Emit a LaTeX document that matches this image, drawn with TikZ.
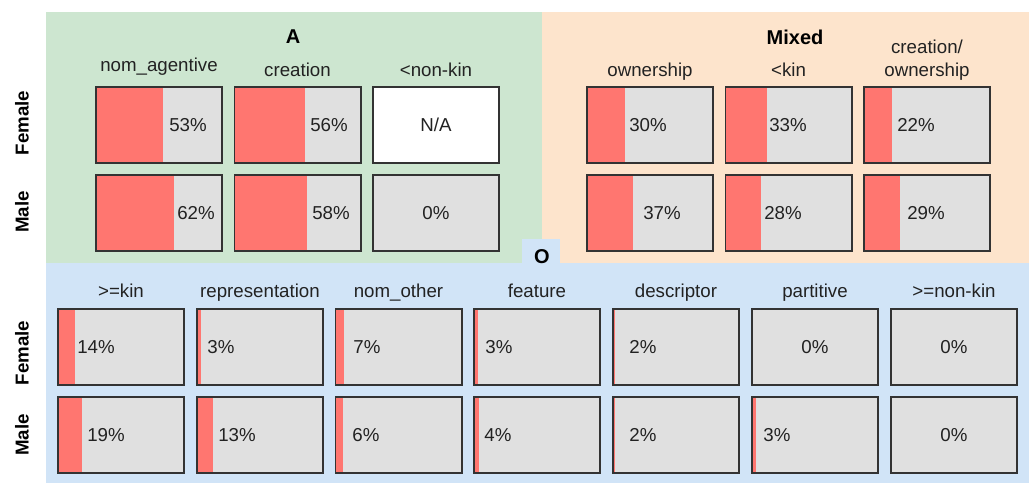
\documentclass[tikz,border=0pt]{standalone}
\usepackage{fontspec}
\setmainfont{Liberation Sans}
\usetikzlibrary{calc}
\definecolor{greenbg}{HTML}{CDE6D0}
\definecolor{orangebg}{HTML}{FDE4CC}
\definecolor{bluebg}{HTML}{D1E4F7}
\definecolor{barred}{HTML}{FF7670}
\definecolor{cellgray}{HTML}{E0E0E0}
\definecolor{edge}{HTML}{333333}
\definecolor{txt}{HTML}{222222}
\tikzset{
  cell/.style={rectangle, inner sep=0pt, minimum width=126pt, minimum height=76pt},
  cellborder/.style={draw=edge, line width=1.6pt},
  val/.style={font=\fontsize{18.7}{22}\selectfont, text=txt, inner sep=0pt},
  hdr/.style={font=\fontsize{18.7}{22}\selectfont, text=txt, anchor=base, inner sep=0pt, align=center},
  ttl/.style={font=\fontsize{20}{24}\selectfont\bfseries, inner sep=0pt},
  side/.style={font=\fontsize{18.7}{22}\selectfont\bfseries, rotate=90, inner sep=0pt},
}
% #1 fill, #2 name, #3 left x, #4 top y, #5 percent, #6 text, #7 text centre x
\newcommand{\pctbox}[7][cellgray]{%
  \node[cell, fill=#1] (#2) at ({#3+63},{#4+38}) {};
  \fill[barred] (#2.north west) rectangle ++({1.26*#5},76);
  \draw[cellborder] (#2.north west) rectangle (#2.south east);
  \node[val] (#2-v) at (#7,{#4+38}) {#6};
}
\begin{document}
\begin{tikzpicture}[x=1pt,y=-1pt]
\useasboundingbox (0,0) rectangle (1029,483);
% panels
\fill[greenbg] (46,12) rectangle (542,263);
\fill[orangebg] (542,12) rectangle (1029,263);
\fill[bluebg] (46,263) rectangle (1029,483);
\fill[bluebg] (522,239) rectangle (560,263);
% titles
\node[ttl] (tA) at (293,37) {A};
\node[ttl] (tM) at (795,37) {Mixed};
\node[ttl] (tO) at (542,257) {O};
% side labels
\node[side] (sF1) at (22,123) {Female};
\node[side] (sM1) at (22,212) {Male};
\node[side] (sF2) at (22,353) {Female};
\node[side] (sM2) at (22,435) {Male};
% headers A
\node[hdr] (hA1) at (159,71) {nom\_agentive};
\node[hdr] (hA2) at (297.5,76) {creation};
\node[hdr] (hA3) at (436,76) {<non-kin};
% headers Mixed
\node[hdr] (hM1) at (650,76) {ownership};
\node[hdr] (hM2) at (788.5,76) {<kin};
\node[hdr] (hM3a) at (927,53) {creation/};
\node[hdr] (hM3b) at (927,76) {ownership};
% headers O
\node[hdr] (hO1) at (121,297) {>=kin};
\node[hdr] (hO2) at (260,297) {representation};
\node[hdr] (hO3) at (398.5,297) {nom\_other};
\node[hdr] (hO4) at (537,297) {feature};
\node[hdr] (hO5) at (676,297) {descriptor};
\node[hdr] (hO6) at (815,297) {partitive};
\node[hdr] (hO7) at (954,297) {>=non-kin};
% A boxes
\pctbox{aF1}{96}{87}{53}{53\%}{188}
\pctbox{aF2}{234.5}{87}{56}{56\%}{329}
\pctbox[white]{aF3}{373}{87}{0}{N/A}{436}
\pctbox{aM1}{96}{175}{62}{62\%}{196}
\pctbox{aM2}{234.5}{175}{58}{58\%}{331}
\pctbox{aM3}{373}{175}{0}{0\%}{436}
% Mixed boxes
\pctbox{mF1}{587}{87}{30}{30\%}{648}
\pctbox{mF2}{725.5}{87}{33}{33\%}{788}
\pctbox{mF3}{864}{87}{22}{22\%}{916}
\pctbox{mM1}{587}{175}{37}{37\%}{662}
\pctbox{mM2}{725.5}{175}{28}{28\%}{783}
\pctbox{mM3}{864}{175}{29}{29\%}{926}
% O boxes
\pctbox{oF1}{58}{309}{14}{14\%}{96}
\pctbox{oF2}{197}{309}{3}{3\%}{221}
\pctbox{oF3}{335.5}{309}{7}{7\%}{367}
\pctbox{oF4}{474}{309}{3}{3\%}{499}
\pctbox{oF5}{613}{309}{2}{2\%}{643}
\pctbox{oF6}{752}{309}{0}{0\%}{815}
\pctbox{oF7}{891}{309}{0}{0\%}{954}
\pctbox{oM1}{58}{397}{19}{19\%}{106}
\pctbox{oM2}{197}{397}{13}{13\%}{237}
\pctbox{oM3}{335.5}{397}{6}{6\%}{366}
\pctbox{oM4}{474}{397}{4}{4\%}{498}
\pctbox{oM5}{613}{397}{2}{2\%}{643}
\pctbox{oM6}{752}{397}{3}{3\%}{777}
\pctbox{oM7}{891}{397}{0}{0\%}{954}
\end{tikzpicture}
\end{document}
